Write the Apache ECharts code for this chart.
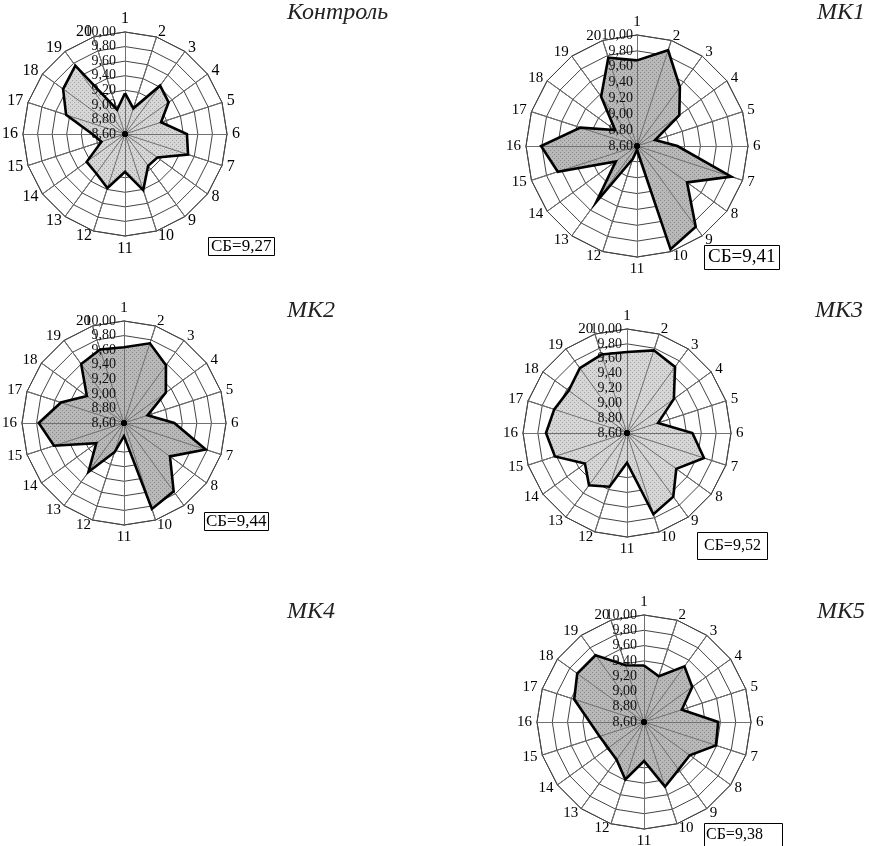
<!DOCTYPE html>
<html>
<head>
<meta charset="utf-8">
<script src="https://cdn.jsdelivr.net/npm/echarts@6/dist/echarts.min.js"></script>
<style>
html,body{margin:0;padding:0;background:#fff;}
#chart{width:869px;height:846px;}
</style>
</head>
<body>
<div id="chart"></div>
<script>
// ---- data ----
const categories = ['1','2','3','4','5','6','7','8','9','10','11','12','13','14','15','16','17','18','19','20'];
const valueMin = 8.6;
const valueMax = 10.0;
const ringCount = 7;
const kontrol = [9.16, 8.97, 9.42, 9.34, 9.12, 9.45, 9.51, 9.15, 9.14, 9.41, 9.12, 9.38, 9.27, 9.25, 8.94, 9.05, 9.45, 9.65, 9.76, 8.95];
const mk1 = [9.68, 9.87, 9.52, 9.26, 8.84, 9.11, 9.85, 9.38, 9.86, 9.97, 8.65, 8.77, 9.47, 8.93, 9.65, 9.81, 9.35, 8.94, 9.37, 9.77];
const mk2 = [9.64, 9.75, 9.58, 9.31, 8.94, 9.29, 9.78, 9.38, 9.76, 9.84, 8.78, 9.02, 9.43, 9.07, 9.61, 9.77, 9.51, 9.23, 9.60, 9.66];
const mk3 = [9.69, 9.77, 9.70, 9.38, 9.04, 9.48, 9.69, 9.42, 9.66, 9.75, 9.00, 9.36, 9.47, 9.30, 9.62, 9.69, 9.63, 9.57, 9.68, 9.71];
const mk5 = [9.34, 9.23, 9.50, 9.38, 9.12, 9.57, 9.59, 9.34, 9.37, 9.49, 9.11, 9.39, 9.21, 9.18, 9.21, 9.31, 9.56, 9.68, 9.68, 9.38];
const panelTitles = ['Контроль', 'МК1', 'МК2', 'МК3', 'МК4', 'МК5'];
const sbLabels = ['СБ=9,27', 'СБ=9,41', 'СБ=9,44', 'СБ=9,52', 'СБ=9,38'];

// ---- layout / styles ----
const SERIF = 'Liberation Serif';
function pattern(bg, dot) {
  const c = document.createElement('canvas');
  c.width = 4; c.height = 4;
  const g = c.getContext('2d');
  g.fillStyle = bg; g.fillRect(0, 0, 4, 4);
  g.fillStyle = dot; g.fillRect(0, 0, 1, 1); g.fillRect(2, 2, 1, 1);
  return { image: c, repeat: 'repeat' };
}
const lightFill = pattern('#d6d6d6', '#a4a4a4');
const darkFill = pattern('#b8b8b8', '#8a8a8a');

// ECharts lays indicators counter-clockwise; feed 1,20,19,...,2 so 1..20 run clockwise
const order = [0].concat(categories.map((_, i) => categories.length - 1 - i).slice(0, categories.length - 1));

const panels = [
  { data: kontrol, center: [125, 134], radius: 102, fill: lightFill, nameSize: 16, labelSize: 14, labelMargin: 9 },
  { data: mk1, center: [637, 146], radius: 111, fill: darkFill, nameSize: 15, labelSize: 14, labelMargin: 4 },
  { data: mk2, center: [124, 423], radius: 102, fill: darkFill, nameSize: 15, labelSize: 14, labelMargin: 8 },
  { data: mk3, center: [627, 433], radius: 104, fill: lightFill, nameSize: 15, labelSize: 14, labelMargin: 5 },
  { data: mk5, center: [644, 722], radius: 107, fill: darkFill, nameSize: 15, labelSize: 14, labelMargin: 7 }
];

const radars = [];
const series = [];
panels.forEach((p, k) => {
  const base = {
    center: p.center, radius: p.radius, startAngle: 90, splitNumber: ringCount, shape: 'polygon',
    indicator: order.map(i => ({ name: categories[i], min: valueMin, max: valueMax })),
    axisName: { color: '#000', fontFamily: SERIF, fontSize: p.nameSize },
    axisNameGap: 5,
    splitLine: { lineStyle: { color: '#444', width: 1 } },
    splitArea: { show: false },
    axisLine: { lineStyle: { color: '#333', width: 1 } },
    axisTick: { show: false },
    axisLabel: { show: false },
    z: 0
  };
  const overlay = {
    center: p.center, radius: p.radius, startAngle: 90, splitNumber: ringCount, shape: 'polygon',
    indicator: order.map((i, j) => {
      const ind = { name: categories[i], min: valueMin, max: valueMax };
      if (j === 0) ind.axisLabel = { show: true };
      return ind;
    }),
    axisName: { show: false },
    splitLine: { show: false },
    splitArea: { show: false },
    axisLine: { lineStyle: { color: '#707070', width: 1 } },
    axisTick: { show: false },
    axisLabel: {
      show: false, color: '#111', fontFamily: SERIF, fontSize: p.labelSize, margin: p.labelMargin,
      hideOverlap: false, showMinLabel: true, showMaxLabel: true,
      formatter: v => Number(v).toFixed(2).replace('.', ',')
    },
    z: 5
  };
  radars.push(base, overlay);
  const values = order.map(i => p.data[i]);
  // filled area
  series.push({
    type: 'radar', radarIndex: k * 2, symbol: 'none', z: 2,
    lineStyle: { width: 0, opacity: 0 },
    areaStyle: { color: p.fill, opacity: 1 },
    data: [{ value: values }]
  });
  // bold outline on top
  series.push({
    type: 'radar', radarIndex: k * 2, symbol: 'none', z: 7,
    lineStyle: { color: '#000', width: 2.6, join: 'miter' },
    data: [{ value: values }]
  });
  // hub dot where all spokes meet (every axis at its minimum)
  series.push({
    type: 'radar', radarIndex: k * 2 + 1, z: 8, symbol: 'circle', symbolSize: 5,
    itemStyle: { color: '#000' }, lineStyle: { width: 0, opacity: 0 },
    data: [{ value: order.map(() => valueMin) }]
  });
});

const titleStyle = { fontFamily: SERIF, fontStyle: 'italic', fontWeight: 'normal', fontSize: 24, color: '#222' };
function box(size) { return { fontFamily: SERIF, fontSize: size, fontWeight: 'normal', color: '#000' }; }
const titles = [
  { text: panelTitles[0], left: 287, top: 1, textStyle: titleStyle, padding: 0 },
  { text: panelTitles[1], right: 4, top: 1, textStyle: titleStyle, padding: 0 },
  { text: panelTitles[2], left: 287, top: 299, textStyle: titleStyle, padding: 0 },
  { text: panelTitles[3], right: 6, top: 299, textStyle: titleStyle, padding: 0 },
  { text: panelTitles[4], left: 287, top: 600, textStyle: titleStyle, padding: 0 },
  { text: panelTitles[5], right: 4, top: 600, textStyle: titleStyle, padding: 0 },
  { text: sbLabels[0], left: 208, top: 237, padding: [1, 3], borderColor: '#000', borderWidth: 1, textStyle: box(17) },
  { text: sbLabels[1], left: 704, top: 245, padding: [3, 4], borderColor: '#000', borderWidth: 1, textStyle: box(19) },
  { text: sbLabels[2], left: 204, top: 512, padding: [1, 2], borderColor: '#000', borderWidth: 1, textStyle: box(17) },
  { text: sbLabels[3], left: 697, top: 532, padding: [6, 7], borderColor: '#000', borderWidth: 1, textStyle: box(16) },
  { text: sbLabels[4], left: 704, top: 823, padding: [4, 20, 12, 2], borderColor: '#000', borderWidth: 1, textStyle: box(16) }
];

const chart = echarts.init(document.getElementById('chart'), null, { renderer: 'canvas' });
chart.setOption({
  animation: false,
  backgroundColor: '#fff',
  title: titles,
  radar: radars,
  series: series
});
</script>
</body>
</html>
